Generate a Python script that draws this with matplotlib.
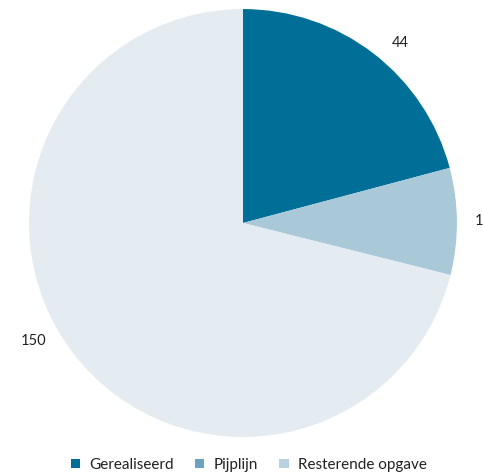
import matplotlib
matplotlib.use("Agg")
import numpy as np
import matplotlib.pyplot as plt
from matplotlib.patches import Patch

categories = ["Gerealiseerd", "Pijplijn", "Resterende opgave"]
values = [44, 17, 150]
slice_colors = ["#006f98", "#a9c8d8", "#e4ecf2"]
legend_colors = ["#006f98", "#6aa2bf", "#b9d2e0"]

plt.rcParams['font.family'] = ['Lato', 'DejaVu Sans']

fig = plt.figure(figsize=(4.83, 4.73), dpi=100)
ax = fig.add_axes([0.060, 0.076, 0.886, 0.905])

wedges, texts = ax.pie(values, labels=[str(v) for v in values], colors=slice_colors,
                       startangle=90, counterclock=False, labeldistance=1.1,
                       wedgeprops=dict(linewidth=0),
                       textprops=dict(fontsize=10.5, color="#222222"))

# nudge the labels a little clockwise, like the original layout
nudge = [2, 0, 7]
dist = [1.09, 1.085, 1.07]
for w, t, n, d in zip(wedges, texts, nudge, dist):
    ang = np.deg2rad((w.theta1 + w.theta2) / 2 - n)
    t.set_position((d * np.cos(ang), d * np.sin(ang)))
    t.set_va("center")

ax.set_xlim(-1, 1)
ax.set_ylim(-1, 1)
ax.set_aspect("equal")

handles = [Patch(facecolor=c, edgecolor="none") for c in legend_colors]
leg = fig.legend(handles, categories, loc="center", bbox_to_anchor=(0.515, 0.017),
                 ncol=3, frameon=False, fontsize=11, handlelength=0.6, handleheight=0.6,
                 handletextpad=0.6, columnspacing=1.4)
for t in leg.get_texts():
    t.set_color("#222222")

fig.savefig("out.png", dpi=100)
